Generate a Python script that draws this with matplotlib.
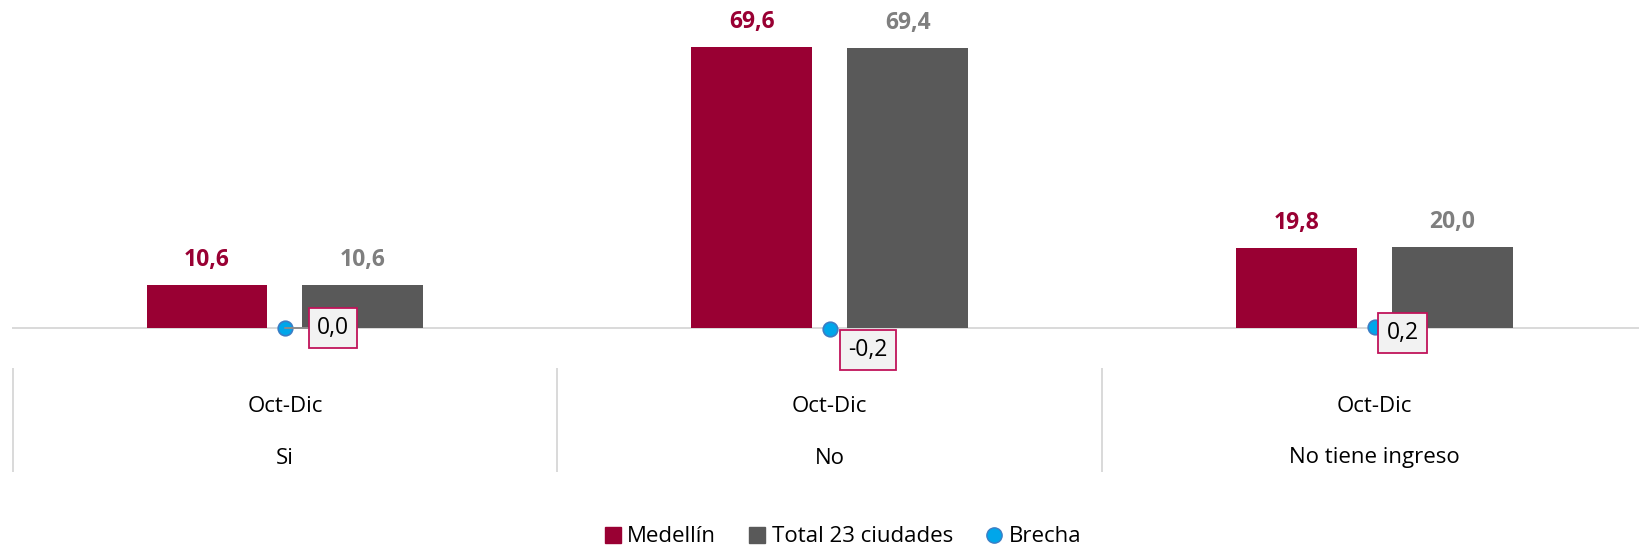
import matplotlib
matplotlib.use("Agg")
import matplotlib.pyplot as plt
from matplotlib.lines import Line2D
from matplotlib.transforms import blended_transform_factory
import numpy as np

plt.rcParams['font.family'] = ['Open Sans', 'DejaVu Sans']

# Data
periods = ["Oct-Dic", "Oct-Dic", "Oct-Dic"]
groups = ["Si", "No", "No tiene ingreso"]
medellin = [10.6, 69.6, 19.8]
total_23 = [10.6, 69.4, 20.0]
brecha = [0.0, -0.2, 0.2]

series_names = ["Medellín", "Total 23 ciudades", "Brecha"]

# Styling
RED = "#990033"
GRAY = "#595959"
GRAY_TXT = "#7F7F7F"
BLUE = "#00A6EA"
BLUE_EDGE = "#3C7DC4"
GRID = "#D9D9D9"
BOX_EDGE = "#C0145A"
FS = 16

W, H = 1640, 548
fig = plt.figure(figsize=(W / 100, H / 100), dpi=100)

# axes placement in pixels
left_px, right_px = 12.5, 1647
base_px = 328.0
px_per_unit = (328.0 - 47.0) / 69.6
ymin = -5.0
ymax = base_px / px_per_unit
bottom_px = base_px - ymin * px_per_unit
ax = fig.add_axes([left_px / W, 1 - bottom_px / H, (right_px - left_px) / W, bottom_px / H])
ax.set_xlim(-0.5, 2.5)
ax.set_ylim(ymin, ymax)
ax.axis("off")

x = np.arange(len(groups))
bw = 0.222
off = 0.143

ax.axhline(0, color=GRID, lw=1.4, zorder=1)
ax.bar(x - off, medellin, width=bw, color=RED, zorder=2)
ax.bar(x + off, total_23, width=bw, color=GRAY, zorder=2)

for xi, v in zip(x, medellin):
    ax.annotate(f"{v:.1f}".replace(".", ","), (xi - off, v), xytext=(0, 25),
                textcoords="offset pixels", ha="center", va="center",
                fontsize=16.5, fontweight="bold", color=RED)
for xi, v in zip(x, total_23):
    ax.annotate(f"{v:.1f}".replace(".", ","), (xi + off, v), xytext=(0, 25),
                textcoords="offset pixels", ha="center", va="center",
                fontsize=16.5, fontweight="bold", color=GRAY_TXT)

# gap markers and their labels
ax.plot(x, brecha, linestyle="none", marker="o", markersize=10.5,
        markerfacecolor=BLUE, markeredgecolor=BLUE_EDGE, markeredgewidth=1.2,
        zorder=4, clip_on=False)

label_offsets = [(48, 0), (38, -21), (28, -6)]
for i, (xi, v) in enumerate(zip(x, brecha)):
    txt = f"{v:.1f}".replace(".", ",")
    kw = {}
    if i == 0:
        kw["arrowprops"] = dict(arrowstyle="-", color="#8C8C8C", lw=1.4,
                                shrinkA=0, shrinkB=0)
    ax.annotate(txt, (xi, v), xytext=label_offsets[i], textcoords="offset pixels",
                ha="center", va="center", fontsize=16.5, color="black", zorder=5,
                bbox=dict(boxstyle="square,pad=0.36", fc="#F2F2F2", ec=BOX_EDGE, lw=1.3),
                annotation_clip=False, **kw)

# category axis: period row, group row and separators
tr = blended_transform_factory(ax.transData, fig.transFigure)
for xi, p, g in zip(x, periods, groups):
    ax.text(xi, 1 - 406 / H, p, transform=tr, ha="center", va="center", fontsize=FS)
    ax.text(xi, 1 - 458 / H, g, transform=tr, ha="center", va="center", fontsize=FS)
for sx in [-0.5, 0.5, 1.5]:
    ax.plot([sx, sx], [1 - 369 / H, 1 - 471 / H], transform=tr, color=GRID,
            lw=1.4, clip_on=False)

handles = [
    Line2D([], [], linestyle="none", marker="s", markersize=11, color=RED),
    Line2D([], [], linestyle="none", marker="s", markersize=11, color=GRAY),
    Line2D([], [], linestyle="none", marker="o", markersize=11,
           markerfacecolor=BLUE, markeredgecolor=BLUE_EDGE),
]
fig.legend(handles, series_names, loc="center", bbox_to_anchor=(843 / W, 1 - 537 / H),
           ncol=3, frameon=False, fontsize=FS, handlelength=0.7, handletextpad=0.3,
           columnspacing=1.5, borderpad=0)

fig.savefig("out.png", dpi=100)
